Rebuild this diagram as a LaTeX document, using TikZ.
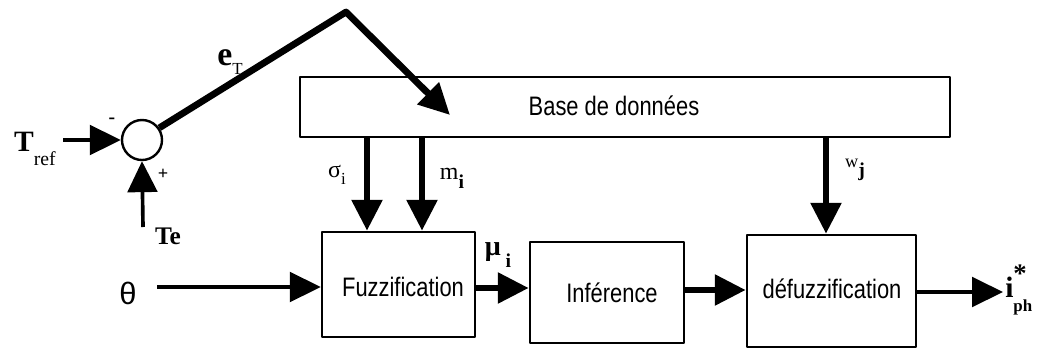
\documentclass[tikz,border=0pt]{standalone}
\usepackage{fontspec}
\usepackage{tikz}
\usetikzlibrary{arrows.meta,calc}
\newfontfamily\labelfont{Liberation Serif}
\newfontfamily\blockfont[FakeStretch=0.82]{Liberation Sans}
\newfontfamily\symfont{Liberation Sans}

\begin{document}
\begin{tikzpicture}[x=0.025cm,y=-0.025cm,line cap=round,line join=round,
    >={Triangle[length=22pt,width=21pt]},
    block/.style={draw,line width=1.7pt,inner sep=0pt},
    thinwire/.style={->,line width=2.6pt,line cap=butt},
    thickwire/.style={->,line width=4.8pt,line cap=butt},
    blocktxt/.style={font=\blockfont\fontsize{19}{22}\selectfont,inner sep=0pt},
    lbl/.style={font=\labelfont\bfseries\fontsize{18}{20}\selectfont,inner sep=0pt},
    sublbl/.style={font=\labelfont\fontsize{17}{19}\selectfont,inner sep=0pt}]
    \useasboundingbox (0,0) rectangle (1046,350);

    % The data base and the three processing blocks.
    \node[block,minimum width=16.25cm,minimum height=1.5cm] (base) at (625,107) {};
    \node[blocktxt] (basetxt) at (614,106) {Base de données};
    \node[block,minimum width=3.825cm,minimum height=2.625cm] (fuzz) at (398.5,284.5) {};
    \node[blocktxt] (fuzztxt) at (403,287) {Fuzzification};
    \node[block,minimum width=3.85cm,minimum height=2.525cm] (inf) at (607,292.5) {};
    \node[blocktxt] (inftxt) at (612,293) {Inférence};
    \node[block,minimum width=4.225cm,minimum height=2.8cm] (defuz) at (831.5,291) {};
    \node[blocktxt] (defuztxt) at (832,289) {défuzzification};

    % The comparator on the temperature.
    \node[draw,circle,line width=1.7pt,minimum size=1cm,inner sep=0pt] (sum) at (142,140) {};
    \coordinate (tref) at (63,140);
    \coordinate (te) at (143,227);
    \coordinate (peak) at (346,12);
    \coordinate (etip) at (450,115);
    \draw[thinwire] (tref) -- (sum.west);
    \draw[thinwire] (te) -- (sum.south);
    \draw[thickwire] (sum.35) -- (peak) -- (etip);
    \node[lbl,font=\labelfont\bfseries\fontsize{21}{22}\selectfont] (treflbl) at (35,149)
      {T\raisebox{-1.0ex}{\mdseries\fontsize{14}{15}\selectfont ref}};
    \node[lbl] (telbl) at (168,236) {Te};
    \node[lbl,font=\labelfont\bfseries\fontsize{14}{15}\selectfont] (minus) at (112,121) {-};
    \node[lbl,font=\labelfont\bfseries\fontsize{13}{14}\selectfont] (plus) at (163,174) {+};
    \node[lbl,font=\labelfont\bfseries\fontsize{24}{25}\selectfont] (etlbl) at (230,62)
      {e\raisebox{-0.6ex}{\mdseries\fontsize{12}{13}\selectfont T}};

    % Parameters taken from the data base.
    \coordinate (sig) at (367,0);
    \coordinate (mx) at (422,0);
    \coordinate (wx) at (826,0);
    \draw[thickwire] (sig |- base.south) -- (sig |- fuzz.north);
    \draw[thickwire] (mx |- base.south) -- (mx |- fuzz.north);
    \draw[thickwire] (wx |- base.south) -- (wx |- defuz.north);
    \node[sublbl] (siglbl) at (337,175) {σ\raisebox{-0.7ex}{\fontsize{12}{13}\selectfont i}};
    \node[sublbl] (mlbl) at (452,178) {m\raisebox{-0.8ex}{\bfseries\fontsize{14}{15}\selectfont i}};
    \node[sublbl,font=\labelfont\fontsize{13}{14}\selectfont] (wlbl) at (855,170)
      {w\raisebox{-1.1ex}{\bfseries\fontsize{14}{15}\selectfont j}};

    % Main chain from the angle to the reference current.
    \coordinate (thetain) at (157,287);
    \coordinate (fi) at (0,288);
    \coordinate (id) at (0,290);
    \coordinate (out) at (1003,292);
    \draw[thinwire] (thetain) -- (thetain -| fuzz.west);
    \draw[thickwire] (fuzz.east |- fi) -- (inf.west |- fi);
    \draw[thickwire] (inf.east |- id) -- (defuz.west |- id);
    \draw[thinwire] (defuz.east |- out) -- (out);
    \node[font=\symfont\fontsize{22}{24}\selectfont,inner sep=0pt] (thetalbl) at (128,293) {θ};
    \node[lbl,font=\labelfont\bfseries\fontsize{20}{22}\selectfont] (mulbl) at (498,255)
      {μ\raisebox{-1.0ex}{\fontsize{14}{15}\selectfont\ i}};
    \node[lbl,font=\labelfont\bfseries\fontsize{21}{22}\selectfont,anchor=west] (outlbl) at (1005,290)
      {i\makebox[0pt][l]{\raisebox{1.1ex}{\fontsize{19}{19}\selectfont *}}\raisebox{-1.0ex}{\fontsize{12}{12}\selectfont ph}};
\end{tikzpicture}
\end{document}
